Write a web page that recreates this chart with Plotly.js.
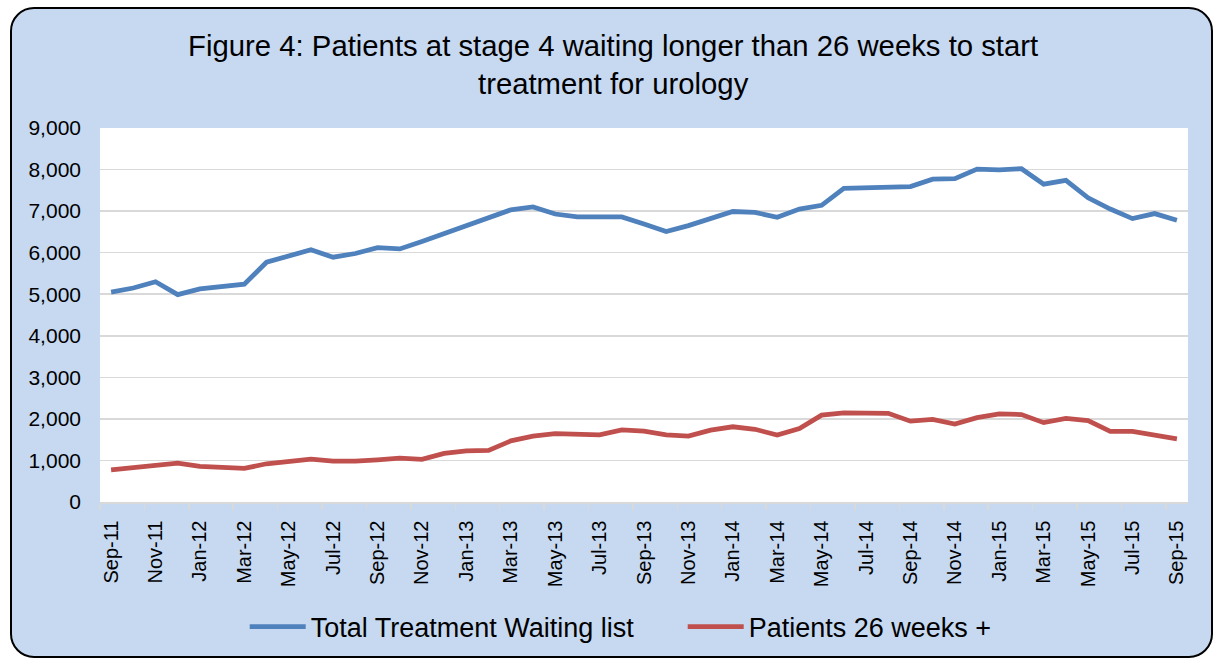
<!DOCTYPE html>
<html>
<head>
<meta charset="utf-8">
<script src="https://cdn.plot.ly/plotly-3.0.1.min.js"></script>
<style>
  html, body { margin: 0; padding: 0; background: #ffffff; }
  #frame { position: absolute; left: 10px; top: 7px; width: 1199px; height: 647px;
           background: #c6d9f1; border: 2px solid #000; border-radius: 24px; }
  #chart { position: absolute; left: 0; top: 0; width: 1219px; height: 662px; }
</style>
</head>
<body>
<div id="frame"></div>
<div id="chart"></div>
<script>
const months = ["Sep-11","Oct-11","Nov-11","Dec-11","Jan-12","Feb-12","Mar-12","Apr-12","May-12","Jun-12","Jul-12","Aug-12",
  "Sep-12","Oct-12","Nov-12","Dec-12","Jan-13","Feb-13","Mar-13","Apr-13","May-13","Jun-13","Jul-13","Aug-13",
  "Sep-13","Oct-13","Nov-13","Dec-13","Jan-14","Feb-14","Mar-14","Apr-14","May-14","Jun-14","Jul-14","Aug-14",
  "Sep-14","Oct-14","Nov-14","Dec-14","Jan-15","Feb-15","Mar-15","Apr-15","May-15","Jun-15","Jul-15","Aug-15","Sep-15"];

const totalWaiting = [5050,5150,5300,4990,5130,5190,5240,5770,5930,6070,5890,5980,
  6120,6090,6270,6460,6620,6810,7030,7100,6930,6860,6850,6860,
  6690,6510,6650,6810,6990,6970,6850,7050,7140,7550,7560,7580,
  7590,7770,7780,8010,7990,8020,7650,7740,7320,7050,6820,6940,6780];

const patients26 = [775,830,900,935,855,825,810,920,970,1030,985,985,
  1015,1055,1025,1170,1230,1240,1470,1585,1645,1630,1615,1735,
  1705,1615,1585,1730,1810,1750,1610,1770,2090,2145,2135,2135,
  1945,1990,1875,2030,2120,2105,1910,2010,1960,1700,1700,1610,1520];

const seriesNames = ["Total Treatment Waiting list", "Patients 26 weeks +"];
const titleText = "Figure 4: Patients at stage 4 waiting longer than 26 weeks to start<br>treatment for urology";

const font = "'Liberation Sans', Arial, sans-serif";

const traces = [
  { x: months, y: totalWaiting, name: seriesNames[0], type: "scatter", mode: "lines",
    line: { color: "#4f81bd", width: 4.8 } },
  { x: months, y: patients26, name: seriesNames[1], type: "scatter", mode: "lines",
    line: { color: "#c0504d", width: 4.8 } }
];

const layout = {
  width: 1219, height: 662,
  paper_bgcolor: "rgba(0,0,0,0)",
  plot_bgcolor: "#ffffff",
  font: { family: font, color: "#000000" },
  margin: { l: 100, r: 31, t: 128, b: 159 },
  title: { text: titleText, font: { family: font, size: 29.3, color: "#000" },
           xref: "container", x: 0.503, yref: "container", y: 0.915, yanchor: "top" },
  xaxis: {
    type: "category", range: [-0.5, months.length - 0.5], tickmode: "linear", dtick: 2, tick0: 0,
    tickson: "boundaries", ticks: "outside", ticklen: 6, tickwidth: 1.5, tickcolor: "#d9d9d9",
    tickangle: -90, tickfont: { family: font, size: 20, color: "#000" },
    showgrid: false, showline: true, linecolor: "#d9d9d9", linewidth: 1.5,
    ticklabelstandoff: 9,
    fixedrange: true
  },
  yaxis: {
    range: [0, 9000], dtick: 1000, tickformat: ",d",
    showgrid: true, gridcolor: "#d9d9d9", gridwidth: 1.5,
    zeroline: false, showline: false, ticks: "",
    tickfont: { family: font, size: 21, color: "#000" },
    ticklabelstandoff: 18,
    fixedrange: true
  },
  showlegend: true,
  legend: {
    orientation: "h", xref: "paper", x: 0.133, xanchor: "left",
    y: -0.331, yanchor: "middle",
    font: { family: font, size: 27, color: "#000" },
    bgcolor: "rgba(0,0,0,0)", itemwidth: 56, entrywidth: 367, entrywidthmode: "pixels"
  }
};

Plotly.newPlot("chart", traces, layout, { staticPlot: true, displayModeBar: false });
</script>
</body>
</html>
